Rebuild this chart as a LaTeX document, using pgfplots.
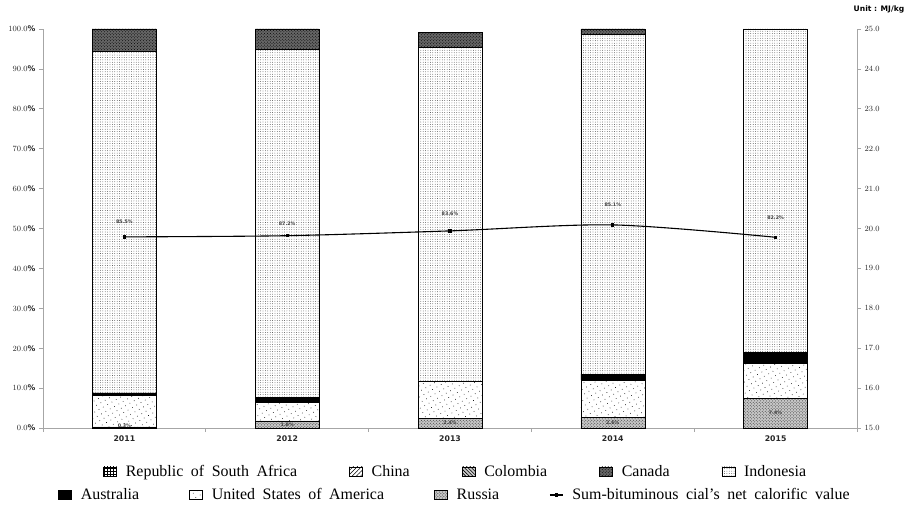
\documentclass[border=0pt]{standalone}
\usepackage{fontspec}
\setmainfont{Liberation Serif}
\newfontfamily\tickfont{DejaVu Sans}
\usepackage{pgfplots}
\pgfplotsset{compat=1.18}
\usetikzlibrary{patterns,patterns.meta}
\newcommand\legfnt{\fontsize{16}{18}\selectfont\spaceskip 7.6pt plus 1pt\relax}

\pgfplotsset{
  rectleg/.style={legend image code/.code={\draw[##1] (0bp,-4bp) rectangle (13bp,5bp);}},
  lineleg/.style={legend image code/.code={\draw[mark repeat=2,mark phase=2,##1] plot coordinates {(0bp,0bp) (6.5bp,0bp) (13bp,0bp)};}},
  rsa/.style={draw=black, line width=0.6pt, fill=white, postaction={pattern=grid, pattern color=black}},
  china/.style={draw=none, fill=white, postaction={pattern={Lines[angle=45,distance=3pt,line width=0.4pt]}, pattern color=black}},
  colombia/.style={draw=black, line width=0.6pt, fill=gray!40, postaction={pattern={Lines[angle=-45,distance=2.5pt,line width=0.6pt]}, pattern color=black}},
  canada/.style={draw=black, line width=0.6pt, fill=black!60, postaction={pattern=crosshatch dots, pattern color=black}},
  indonesia/.style={draw=black, line width=0.6pt, fill=white, postaction={pattern={Dots[distance=2.4pt,radius=0.38pt]}, pattern color=black!85}},
  australia/.style={draw=black, line width=0.6pt, fill=black},
  usa/.style={draw=black, line width=0.6pt, fill=white, postaction={pattern={Dots[distance=5pt,radius=0.45pt,angle=30]}, pattern color=black}},
  russia/.style={draw=black, line width=0.6pt, fill=gray!45, postaction={pattern=crosshatch dots, pattern color=black!80}},
  tl/.style={font=\tickfont\bfseries\fontsize{7.8}{9}\selectfont, text=black!85},
  lbl/.style={draw=none, mark=none, nodes near coords, point meta=explicit symbolic,
    nodes near coords style={font=\tickfont\bfseries\fontsize{4.8}{5}\selectfont, text=black!75, anchor=center}},
}

\begin{document}
\begin{tikzpicture}
\begin{axis}[name=ax, scale only axis, width=814bp, height=399bp,
  ybar stacked, bar width=64bp,
  xmin=-0.5, xmax=4.5, ymin=0, ymax=100,
  axis y line*=left, axis x line*=bottom,
  axis line style={gray!70, line width=0.7pt, -},
  xtick={-0.5,0.5,1.5,2.5,3.5,4.5}, x tick label as interval,
  xticklabels={2011,2012,2013,2014,2015},
  ytick={0,10,...,100},
  yticklabel={\pgfmathprintnumber[fixed,fixed zerofill,precision=1]{\tick}\%},
  tick style={gray!70, line width=0.7pt},
  tick align=outside, major tick length=4bp,
  ticklabel style={tl},
  rectleg,
  legend style={at={(0.507,-0.11)}, anchor=center, draw=none, fill=none,
    legend columns=-1, font=\legfnt,
    /tikz/every odd column/.append style={column sep=7bp},
    /tikz/every even column/.append style={column sep=50bp}},
]
\addlegendimage{rsa}\addlegendentry{Republic of South Africa}
\addlegendimage{china}\addlegendentry{China}
\addlegendimage{colombia}\addlegendentry{Colombia}
\addlegendimage{canada}\addlegendentry{Canada}
\addlegendimage{indonesia}\addlegendentry{Indonesia}
% stacked bottom-up
\addplot[russia] coordinates {(0,0.3) (1,1.8) (2,2.4) (3,2.6) (4,7.4)};
\addplot[usa] coordinates {(0,7.8) (1,4.6) (2,9.4) (3,9.4) (4,8.8)};
\addplot[australia] coordinates {(0,0.7) (1,1.3) (2,0) (3,1.5) (4,2.8)};
\addplot[indonesia] coordinates {(0,85.5) (1,87.2) (2,83.6) (3,85.1) (4,81.0)};
\addplot[canada] coordinates {(0,5.7) (1,5.1) (2,3.8) (3,1.4) (4,0)};
\end{axis}

\begin{axis}[scale only axis, width=814bp, height=399bp,
  xmin=-0.5, xmax=4.5, ymin=15, ymax=25,
  axis y line*=right, axis x line=none,
  axis line style={gray!70, line width=0.7pt, -},
  ytick={15,16,...,25},
  yticklabel={\pgfmathprintnumber[fixed,fixed zerofill,precision=1]{\tick}},
  tick style={gray!70, line width=0.7pt},
  tick align=outside, major tick length=4bp,
  ticklabel style={tl},
  title={Unit : MJ/kg},
  title style={at={(1.027,1.035)}, anchor=center, font=\tickfont\bfseries\fontsize{7.6}{8}\selectfont},
  legend style={at={(0.506,-0.168)}, anchor=center, draw=none, fill=none,
    legend columns=-1, font=\legfnt,
    /tikz/every odd column/.append style={column sep=7bp},
    /tikz/every even column/.append style={column sep=48bp}},
]
\addlegendimage{australia, rectleg}\addlegendentry{Australia}
\addlegendimage{usa, rectleg}\addlegendentry{United States of America}
\addlegendimage{russia, rectleg}\addlegendentry{Russia}
\addplot[black, line width=1.1pt, smooth, mark=square*, mark size=1.1pt,
  mark options={fill=black}, lineleg]
  coordinates {(0,19.79) (1,19.82) (2,19.94) (3,20.09) (4,19.78)};
\addlegendentry{Sum-bituminous cial's net calorific value}
\end{axis}

\begin{axis}[scale only axis, width=814bp, height=399bp,
  xmin=-0.5, xmax=4.5, ymin=0, ymax=100, hide axis]
\addplot[lbl]
  coordinates {(0,51.6) [85.5\%] (1,51.3) [87.2\%] (2,53.6) [83.6\%] (3,56.0) [85.1\%] (4,52.6) [82.2\%]};
\addplot[lbl]
  coordinates {(0,0.6) [0.3\%] (1,0.9) [1.8\%] (2,1.2) [2.4\%] (3,1.3) [2.6\%] (4,3.7) [7.4\%]};
\end{axis}

\pgfresetboundingbox
\path ([xshift=-43bp,yshift=-79bp]ax.south west) rectangle ([xshift=60bp,yshift=29bp]ax.north east);
\end{tikzpicture}
\end{document}
